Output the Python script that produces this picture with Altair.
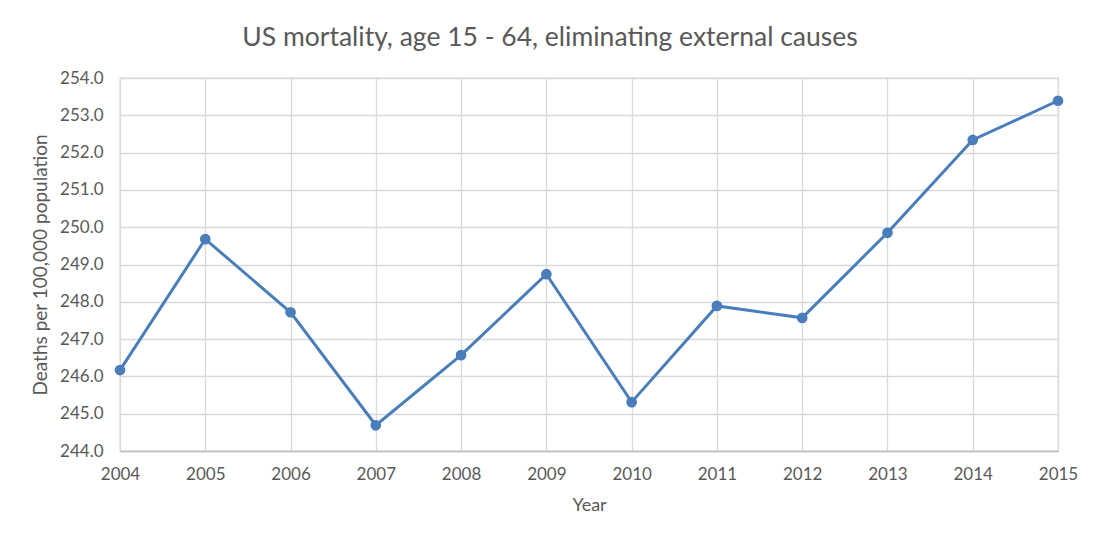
import altair as alt
import pandas as pd

years = [2004, 2005, 2006, 2007, 2008, 2009, 2010, 2011, 2012, 2013, 2014, 2015]
deaths = [246.17, 249.68, 247.72, 244.69, 246.57, 248.74, 245.31, 247.89, 247.57, 249.85, 252.34, 253.39]
y_ticks = [244, 245, 246, 247, 248, 249, 250, 251, 252, 253, 254]

df = pd.DataFrame({"Year": years, "Deaths": deaths})

FONT = "Lato"
TXT = "#595959"
GRID = "#d9d9d9"
BLUE = "#4a7ebb"

base = alt.Chart(df)

x = alt.X("Year:Q", scale=alt.Scale(domain=[2004, 2015], nice=False, zero=False),
          axis=alt.Axis(values=years, format="d", title="Year", grid=True, gridColor=GRID,
                        gridWidth=1.3, ticks=False, domainColor="#bfbfbf", domainWidth=1.5,
                        labelFlush=False, labelBound=False, labelOverlap=False,
                        labelFont=FONT, labelFontSize=17, labelColor=TXT, labelPadding=15,
                        titleFont=FONT, titleFontSize=18, titleColor=TXT, titleFontWeight="normal",
                        titlePadding=14))
y = alt.Y("Deaths:Q", scale=alt.Scale(domain=[244, 254], nice=False, zero=False),
          axis=alt.Axis(values=y_ticks, format=".1f", title="Deaths per 100,000 population",
                        grid=True, gridColor=GRID, gridWidth=1.3, ticks=False, domain=False,
                        labelFlush=False, labelBound=False, labelOverlap=False,
                        labelFont=FONT, labelFontSize=17, labelColor=TXT, labelPadding=17,
                        titleFont=FONT, titleFontSize=19, titleColor=TXT, titleFontWeight="normal",
                        titlePadding=9))

line = base.mark_line(color=BLUE, strokeWidth=3).encode(x=x, y=y)
pts = base.mark_circle(color=BLUE, size=115, opacity=1).encode(x=x, y=y)

chart = (line + pts).properties(
    width=938, height=373,
    title=alt.TitleParams("US mortality, age 15 - 64, eliminating external causes",
                          font=FONT, fontSize=26.5, color=TXT, fontWeight="normal",
                          anchor="middle", frame="group", dx=-39, offset=18),
    padding={"left": 112, "top": 70, "right": 34, "bottom": 85},
    autosize="none",
).configure_view(stroke=GRID, strokeWidth=1.3)

chart.save("out.html", embed_options={"renderer": "svg", "actions": False})
